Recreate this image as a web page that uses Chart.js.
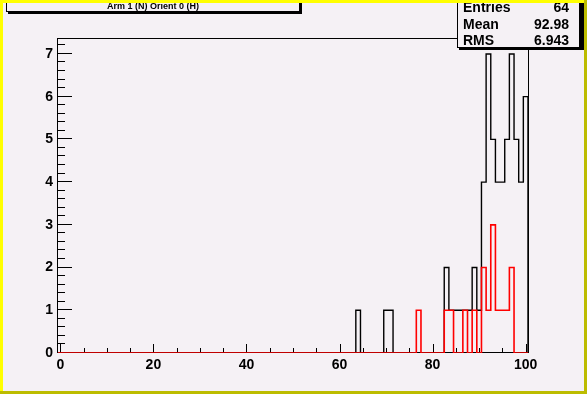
<!DOCTYPE html>
<html lang="en">
<head>
    <meta charset="UTF-8">
    <title>Arm 1 (N) Orient 0 (H)</title>
    <script src="https://cdn.jsdelivr.net/npm/chart.js@4.4.1/dist/chart.umd.min.js"></script>
    <style>
        body {
            margin: 0;
            padding: 0;
            background-color: #f5f1f5;
        }
        .container {
            position: relative;
            width: 587px;
            height: 394px;
        }
    </style>
</head>
<body>
    <div class="container">
        <canvas id="histo"></canvas>
    </div>

    <script>
        const titleText = 'Arm 1 (N) Orient 0 (H)';
        const statLabels = ['Entries', 'Mean', 'RMS'];
        const statValues = ['64', '92.98', '6.943'];
        const xTickLabels = [0, 20, 40, 60, 80, 100];
        const yTickLabels = [0, 1, 2, 3, 4, 5, 6, 7];

        // bins are 1 wide, centred on the integers 0..100
        const blackBins = [64, 70, 71, 83, 84, 85, 86, 87, 88, 89, 90, 91, 92, 93, 94, 95, 96, 97, 98, 99, 100];
        const blackCounts = [1, 1, 1, 2, 1, 1, 1, 1, 1, 2, 1, 4, 7, 5, 4, 4, 5, 7, 5, 4, 6];
        const redBins = [77, 83, 84, 87, 89, 91, 92, 93, 94, 95, 96, 97];
        const redCounts = [1, 1, 1, 1, 1, 2, 1, 3, 1, 1, 1, 2];

        const fontFamily = "'Liberation Sans', Arial, sans-serif";
        const bg = '#f5f1f5';

        function histPoints(bins, counts) {
            const full = new Array(101).fill(0);
            bins.forEach((b, i) => { full[b] = counts[i]; });
            const pts = full.map((c, i) => ({ x: i - 0.5, y: c }));
            pts.push({ x: 100.5, y: 0 });
            return pts;
        }

        const rootFrame = {
            id: 'rootFrame',
            beforeDraw(chart) {
                const c = chart.ctx;
                c.save();
                c.fillStyle = bg;
                c.fillRect(0, 0, chart.width, chart.height);
                c.restore();
            },
            beforeDatasetsDraw(chart) {
                const c = chart.ctx;
                const a = chart.chartArea;
                const xs = chart.scales.x, ys = chart.scales.y;
                c.save();
                c.strokeStyle = '#000';
                c.lineWidth = 1;
                c.strokeRect(Math.round(a.left) - 0.5, Math.round(a.top) - 0.5,
                    Math.round(a.right - a.left) + 1, Math.round(a.bottom - a.top));
                c.beginPath();
                // x ticks, every 5, long every 20
                for (let v = 0; v <= 100; v += 5) {
                    const px = Math.round(xs.getPixelForValue(v)) + 0.5;
                    const len = v % 20 === 0 ? 9 : 5;
                    c.moveTo(px, a.bottom);
                    c.lineTo(px, a.bottom - len);
                }
                // y ticks, every 0.2, long every 1
                for (let i = 0; i <= 36; i++) {
                    const py = Math.round(ys.getPixelForValue(i / 5)) - 0.5;
                    const len = i % 5 === 0 ? 14 : 7;
                    c.moveTo(a.left, py);
                    c.lineTo(a.left + len, py);
                }
                c.stroke();
                c.restore();
            },
            afterDraw(chart) {
                const c = chart.ctx;
                c.save();
                // title pave
                c.fillStyle = '#000';
                c.fillRect(8, 0, 294, 14);
                c.fillStyle = bg;
                c.fillRect(6, -2, 294, 14);
                c.strokeStyle = '#000';
                c.lineWidth = 1;
                c.strokeRect(6.5, -2.5, 293, 14);
                c.fillStyle = '#000';
                c.font = 'bold 9px ' + fontFamily;
                c.textAlign = 'center';
                c.textBaseline = 'alphabetic';
                c.fillText(titleText, 153, 9);

                // stats pave
                c.fillRect(459, 0, 125, 50);
                c.fillStyle = bg;
                c.fillRect(457, -2, 123, 50);
                c.strokeRect(457.5, -2.5, 122, 50);
                c.fillStyle = '#000';
                c.font = 'bold 14px ' + fontFamily;
                const rows = [12, 28.5, 45];
                statLabels.forEach((lab, i) => {
                    c.textAlign = 'left';
                    c.fillText(lab, 463, rows[i]);
                    c.textAlign = 'right';
                    c.fillText(statValues[i], 569, rows[i]);
                });

                // canvas border
                c.fillStyle = '#ffff00';
                c.fillRect(0, 0, chart.width, 3);
                c.fillRect(0, 0, 3, chart.height);
                c.fillStyle = '#bcbc00';
                c.fillRect(chart.width - 3, 0, 3, chart.height);
                c.fillRect(0, chart.height - 3, chart.width, 3);
                c.restore();
            }
        };

        const ctx = document.getElementById('histo').getContext('2d');
        new Chart(ctx, {
            type: 'line',
            data: {
                datasets: [{
                    label: 'orient 0 (red)',
                    data: histPoints(redBins, redCounts),
                    borderColor: '#ff0000',
                    borderWidth: 1.6,
                    stepped: 'before',
                    pointRadius: 0,
                    fill: false
                }, {
                    label: 'arm 1',
                    data: histPoints(blackBins, blackCounts),
                    borderColor: '#000000',
                    borderWidth: 1.4,
                    stepped: 'before',
                    pointRadius: 0,
                    fill: false
                }]
            },
            options: {
                responsive: true,
                maintainAspectRatio: false,
                animation: false,
                layout: { padding: { left: 0, right: 59, top: 39, bottom: 0 } },
                plugins: {
                    legend: { display: false },
                    tooltip: { enabled: false }
                },
                scales: {
                    x: {
                        type: 'linear',
                        min: -0.5,
                        max: 100.5,
                        grid: { display: false, drawTicks: false },
                        border: { display: false },
                        afterBuildTicks: s => { s.ticks = xTickLabels.map(v => ({ value: v })); },
                        afterFit: s => { s.height = 41; },
                        ticks: {
                            padding: 4,
                            color: '#000',
                            maxRotation: 0,
                            autoSkip: false,
                            font: { family: fontFamily, size: 14, weight: 'bold' }
                        }
                    },
                    y: {
                        min: 0,
                        max: 7.35,
                        grid: { display: false, drawTicks: false },
                        border: { display: false },
                        afterBuildTicks: s => { s.ticks = yTickLabels.map(v => ({ value: v })); },
                        afterFit: s => { s.width = 58; },
                        ticks: {
                            padding: 5,
                            color: '#000',
                            font: { family: fontFamily, size: 14, weight: 'bold' }
                        }
                    }
                }
            },
            plugins: [rootFrame]
        });
    </script>
</body>
</html>
